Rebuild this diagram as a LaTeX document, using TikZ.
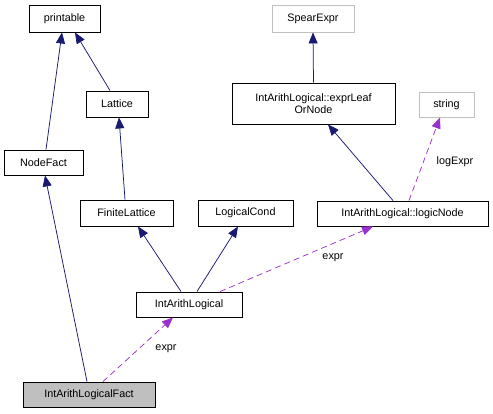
\documentclass[tikz,border=0pt]{standalone}
\usepackage{fontspec}
\setmainfont{Liberation Sans}
\usepackage{tikz}
\usetikzlibrary{arrows.meta}
\definecolor{edgeblue}{RGB}{25,25,112}
\definecolor{edgepurple}{RGB}{153,50,204}
\definecolor{boxgray}{RGB}{191,191,191}
\tikzstyle{cls} = [rectangle, draw=black, line width=0.9pt, fill=white, minimum height=25pt, inner sep=2pt, font=\fontsize{10.8}{11.5}\selectfont]
\tikzstyle{ext} = [cls, draw=boxgray]
\tikzstyle{focus} = [cls, fill=boxgray]
\tikzstyle{inherit} = [edgeblue, line width=0.75pt, -{Triangle[length=11pt,width=9pt]}]
\tikzstyle{usage} = [edgepurple, line width=0.75pt, dash pattern=on 6pt off 4pt, -{Triangle[length=11pt,width=9pt]}]
\tikzstyle{lbl} = [font=\fontsize{10.8}{11.5}\selectfont]

\begin{document}
\begin{tikzpicture}[x=1pt,y=-1pt]
\useasboundingbox (0,0) rectangle (493,413);
\node (printable) [cls, minimum width=71pt, minimum height=27pt] at (64.5,18.5) {printable};
\node (lattice) [cls, minimum width=62pt, minimum height=26pt] at (117,104) {Lattice};
\node (nodefact) [cls, minimum width=79pt] at (43.5,162.5) {NodeFact};
\node (spear) [ext, minimum width=82pt, minimum height=27pt] at (313,18.5) {SpearExpr};
\node (exprleaf) [cls, minimum width=163pt, minimum height=41pt, align=center] at (313.5,103.5) {IntArithLogical::exprLeaf\\OrNode};
\node (string) [ext, minimum width=55pt] at (446.5,104.5) {string};
\node (finite) [cls, minimum width=93pt, minimum height=26pt] at (126.5,213) {FiniteLattice};
\node (logcond) [cls, minimum width=95pt, minimum height=26pt] at (245.5,213) {LogicalCond};
\node (logicnode) [cls, minimum width=171pt] at (402.5,213.5) {IntArithLogical::logicNode};
\node (ial) [cls, minimum width=106pt] at (189,304.5) {IntArithLogical};
\node (fact) [focus, minimum width=132pt] at (89,394.5) {IntArithLogicalFact};
% inheritance
\draw[inherit] ([xshift=2.5pt]nodefact.north) -- ([xshift=-2.5pt]printable.south);
\draw[inherit] ([xshift=-7pt]lattice.north) -- ([xshift=10.5pt]printable.south);
\draw[inherit] ([xshift=-1.5pt]finite.north) -- ([xshift=2pt]lattice.south);
\draw[inherit] ([xshift=-8pt]ial.north) -- ([xshift=11.5pt]finite.south);
\draw[inherit] ([xshift=8pt]ial.north) -- ([xshift=-7.5pt]logcond.south);
\draw[inherit] ([xshift=-2pt]fact.north) -- ([xshift=1.5pt]nodefact.south);
\draw[inherit] (exprleaf.north) -- (spear.south);
\draw[inherit] ([xshift=-9.5pt]logicnode.north) -- ([xshift=14.5pt]exprleaf.south);
% members
\draw[usage] ([xshift=6.5pt]logicnode.north) -- ([xshift=-6.5pt]string.south);
\draw[usage] ([xshift=31pt]ial.north) -- ([xshift=-29.5pt]logicnode.south);
\draw[usage] ([xshift=14pt]fact.north) -- ([xshift=-16pt]ial.south);
\node (lblstr) [lbl] at (455,162) {logExpr};
\node (lblnode) [lbl] at (333,258) {expr};
\node (lblial) [lbl] at (166,349) {expr};
\end{tikzpicture}
\end{document}
